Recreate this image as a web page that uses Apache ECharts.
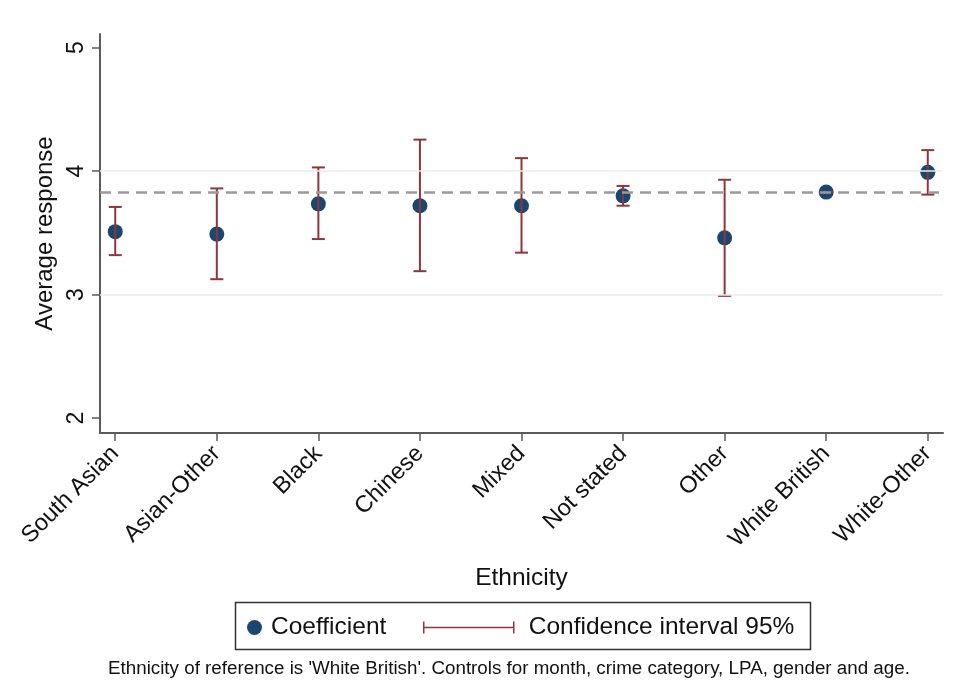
<!DOCTYPE html>
<html>
<head>
<meta charset="utf-8">
<script src="https://cdn.jsdelivr.net/npm/echarts@6/dist/echarts.min.js"></script>
<style>html,body{margin:0;padding:0;background:#fff}#c{width:955px;height:700px}</style>
</head>
<body>
<div id="c"></div>
<script>
const categories = ['South Asian','Asian-Other','Black','Chinese','Mixed','Not stated','Other','White British','White-Other'];
const coef   = [3.51, 3.49, 3.735, 3.72, 3.72, 3.80, 3.46, 3.83, 3.99];
const ciLow  = [3.32, 3.125, 3.45, 3.19, 3.34, 3.72, 2.99, 3.83, 3.81];
const ciHigh = [3.71, 3.86, 4.03, 4.255, 4.105, 3.88, 3.93, 3.83, 4.17];
const refLine = 3.83;
const yTicks = [2, 3, 4, 5];
const gridValues = [3, 4];
const xTicks = categories.map((c, i) => i);

const FONT = 'Liberation Sans, Arial, sans-serif';
const NAVY = '#1a476f';
const MAROON = '#90353b';
const AXIS = '#5a5a5a';

const chart = echarts.init(document.getElementById('c'));
chart.setOption({
  animation: false,
  textStyle: { fontFamily: FONT },
  grid: { left: 100, top: 34, width: 843, height: 399, containLabel: false },
  xAxis: {
    type: 'value', min: -0.15, max: 8.15,
    name: 'Ethnicity', nameLocation: 'middle', nameGap: 133,
    nameTextStyle: { fontSize: 24.5, color: '#111', fontFamily: FONT },
    axisLine: { show: true, onZero: false, lineStyle: { color: AXIS, width: 2 } },
    axisTick: { show: true, customValues: xTicks, length: 8, lineStyle: { color: AXIS, width: 1.5 } },
    axisLabel: { customValues: xTicks, rotate: 45, margin: 17, fontSize: 23.5, color: '#111', fontFamily: FONT,
      formatter: v => categories[Math.round(v)] },
    splitLine: { show: false }
  },
  yAxis: {
    type: 'value', min: 1.88, max: 5.11,
    name: 'Average response', nameLocation: 'middle', nameGap: 41,
    nameTextStyle: { fontSize: 24, color: '#111', fontFamily: FONT },
    axisLine: { show: true, onZero: false, lineStyle: { color: AXIS, width: 2 } },
    axisTick: { show: true, customValues: yTicks, length: 8, lineStyle: { color: AXIS, width: 1.5 } },
    axisLabel: { customValues: yTicks, rotate: 90, margin: 12, fontSize: 23, color: '#111', fontFamily: FONT },
    splitLine: { show: false }
  },
  legend: [
    { data: [{ name: 'Coefficient', icon: 'circle' }], left: 242, top: 610, itemWidth: 15, itemHeight: 15, itemGap: 0,
      textStyle: { fontSize: 24.5, color: '#111', fontFamily: FONT, padding: [0, 0, 0, 4] }, selectedMode: false },
    { data: [{ name: 'Confidence interval 95%', icon: 'path://M0,0L0,12M0,6L90,6M90,0L90,12',
        itemStyle: { color: 'rgba(0,0,0,0)', borderColor: MAROON, borderWidth: 1.5 } }],
      left: 418, top: 610, itemWidth: 92, itemHeight: 12, itemGap: 0,
      textStyle: { fontSize: 24.5, color: '#111', fontFamily: FONT, padding: [0, 0, 0, 9] }, selectedMode: false }
  ],
  title: {
    text: "Ethnicity of reference is 'White British'. Controls for month, crime category, LPA, gender and age.",
    left: 103, top: 654,
    textStyle: { fontSize: 18.8, fontWeight: 'normal', color: '#111', fontFamily: FONT }
  },
  graphic: [{
    type: 'rect', left: 233, top: 600, z: 10,
    shape: { x: 0, y: 0, width: 575, height: 47 },
    style: { fill: 'none', stroke: '#333', lineWidth: 1.5 }
  }],
  series: [
    {
      name: 'grid', type: 'line', data: [], z: 1, silent: true,
      markLine: {
        silent: true, symbol: 'none', label: { show: false },
        data: gridValues.map(v => ({ yAxis: v, lineStyle: { color: '#e8ecef', width: 1.5, type: 'solid' } }))
          .concat([{ yAxis: refLine, lineStyle: { color: '#9a9a9a', width: 2.5, type: [11, 7] } }])
      }
    },
    {
      name: 'Coefficient', type: 'scatter', z: 3,
      data: coef.map((v, i) => [i, v]),
      symbol: 'circle', symbolSize: 15,
      itemStyle: { color: NAVY, opacity: 1 }
    },
    {
      name: 'Confidence interval 95%', type: 'custom', z: 4,
      data: categories.map((c, i) => [i, ciLow[i], ciHigh[i]]),
      encode: { x: 0, y: [1, 2] },
      itemStyle: { color: MAROON },
      renderItem: function (params, api) {
        const x = api.value(0);
        const lo = api.coord([x, api.value(1)]);
        const hi = api.coord([x, api.value(2)]);
        const w = 6.5;
        const st = { stroke: MAROON, lineWidth: 2, fill: 'none' };
        return {
          type: 'group',
          children: [
            { type: 'line', shape: { x1: lo[0], y1: lo[1], x2: hi[0], y2: hi[1] }, style: st },
            { type: 'line', shape: { x1: lo[0] - w, y1: lo[1], x2: lo[0] + w, y2: lo[1] }, style: st },
            { type: 'line', shape: { x1: hi[0] - w, y1: hi[1], x2: hi[0] + w, y2: hi[1] }, style: st }
          ]
        };
      }
    }
  ]
});
</script>
</body>
</html>
